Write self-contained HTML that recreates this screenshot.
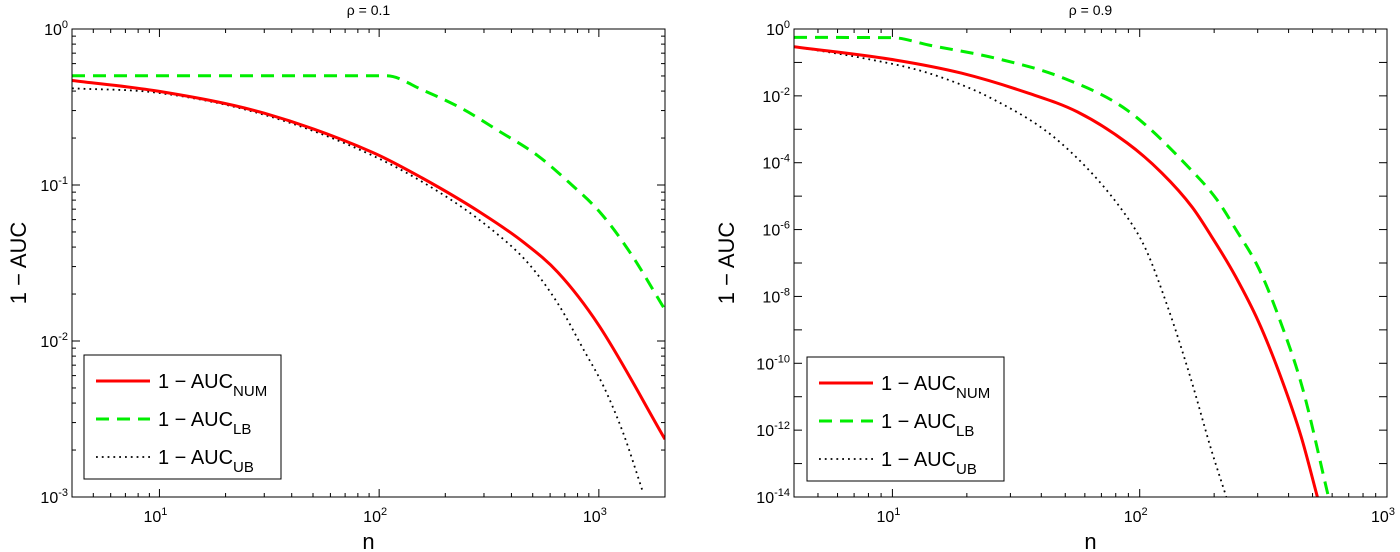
<!DOCTYPE html>
<html><head><meta charset="utf-8">
<style>
html,body{margin:0;padding:0;background:#fff;}
svg{display:block;font-family:"Liberation Sans",sans-serif;}
</style></head>
<body>
<svg id="fig" width="1400" height="552" viewBox="0 0 1400 552"></svg>
<script>
// Left panel (rho = 0.1)  values are log10(1 - AUC)
const leftNumN = [4, 10, 30, 93, 157, 292, 457, 651, 1000, 2000];
const leftNumY = [-0.33, -0.40, -0.54, -0.79, -0.955, -1.18, -1.37, -1.56, -1.90, -2.63];
const leftLbN = [4, 108, 157, 238, 347, 525, 740, 1020, 1397, 2000];
const leftLbY = [-0.30, -0.30, -0.39, -0.51, -0.65, -0.81, -0.99, -1.18, -1.44, -1.80];
const leftUbN = [4, 10, 30, 93, 187, 315, 476, 651, 856, 1050, 1290, 1580];
const leftUbY = [-0.38, -0.41, -0.55, -0.81, -1.045, -1.27, -1.5, -1.76, -2.06, -2.29, -2.59, -2.96];
// Right panel (rho = 0.9)
const rightNumN = [4, 10.3, 19, 35.5, 56, 89, 123, 163, 195, 244, 302, 365, 450, 523];
const rightNumY = [-0.53, -0.93, -1.32, -1.92, -2.48, -3.41, -4.31, -5.33, -6.2, -7.4, -8.75, -10.25, -12.2, -14];
const rightLbN = [4, 10, 14, 26, 48, 89, 166, 205, 244, 302, 365, 455, 580];
const rightLbY = [-0.25, -0.26, -0.48, -0.87, -1.44, -2.43, -4.31, -5.1, -5.98, -7.14, -8.62, -10.73, -14];
const rightUbN = [4, 7.6, 14, 26, 48, 89, 106, 131, 160, 195, 224];
const rightUbY = [-0.53, -0.87, -1.32, -2.13, -3.41, -5.63, -6.6, -8.4, -10.4, -12.6, -14];
const leftYTicks = [0, -1, -2, -3];
const rightYTicks = [0, -2, -4, -6, -8, -10, -12, -14];
const xTickExps = [1, 2, 3];
const legendLabels = ["NUM", "LB", "UB"];

const NS = "http://www.w3.org/2000/svg";
const svg = document.getElementById("fig");
function mk(tag, attrs, parent) {
  const e = document.createElementNS(NS, tag);
  for (const k in attrs) e.setAttribute(k, attrs[k]);
  (parent || svg).appendChild(e);
  return e;
}
// monotone cubic (Fritsch-Carlson)
function smoothPath(p) {
  const n = p.length, dx = [], s = [], m = [];
  for (let i = 0; i < n - 1; i++) { dx[i] = p[i + 1][0] - p[i][0]; s[i] = (p[i + 1][1] - p[i][1]) / dx[i]; }
  m[0] = s[0]; m[n - 1] = s[n - 2];
  for (let i = 1; i < n - 1; i++) m[i] = (s[i - 1] * s[i] <= 0) ? 0 : (s[i - 1] + s[i]) / 2;
  for (let i = 0; i < n - 1; i++) {
    if (s[i] === 0) { m[i] = 0; m[i + 1] = 0; continue; }
    const a = m[i] / s[i], b = m[i + 1] / s[i], h = a * a + b * b;
    if (h > 9) { const t = 3 / Math.sqrt(h); m[i] = t * a * s[i]; m[i + 1] = t * b * s[i]; }
  }
  let d = "M" + p[0][0].toFixed(1) + "," + p[0][1].toFixed(1);
  for (let i = 0; i < n - 1; i++) {
    const h = dx[i] / 3;
    d += " C" + (p[i][0] + h).toFixed(1) + "," + (p[i][1] + m[i] * h).toFixed(1) + " " +
      (p[i + 1][0] - h).toFixed(1) + "," + (p[i + 1][1] - m[i + 1] * h).toFixed(1) + " " +
      p[i + 1][0].toFixed(1) + "," + p[i + 1][1].toFixed(1);
  }
  return d;
}

function panel(cfg) {
  const g = mk("g", {});
  
  
  const {x0, x1, y0, y1, xmin, xmax, ymin, ymax} = cfg;
  const lx0 = Math.log10(xmin), lx1 = Math.log10(xmax);
  const X = n => x0 + (Math.log10(n) - lx0) / (lx1 - lx0) * (x1 - x0);
  const Y = l => y0 + (ymax - l) / (ymax - ymin) * (y1 - y0);
  const clip = "clip-" + cfg.name;
  const cp = mk("clipPath", {id: clip}, g);
  mk("rect", {x: x0, y: y0, width: x1 - x0, height: y1 - y0}, cp);
  for (let d = Math.floor(lx0); d <= Math.ceil(lx1); d++) {
    for (let m = 1; m <= 9; m++) {
      const v = m * Math.pow(10, d);
      if (v < xmin - 1e-9 || v > xmax + 1e-9) continue;
      const px = X(v), len = m === 1 ? 8 : 4;
      mk("line", {x1: px, x2: px, y1: y1, y2: y1 - len, stroke: "#000", "stroke-width": 1}, g);
      mk("line", {x1: px, x2: px, y1: y0, y2: y0 + len, stroke: "#000", "stroke-width": 1}, g);
    }
  }
  xTickExps.forEach(e => {
    if (Math.pow(10, e) > xmax + 1e-9) return;
    const t = mk("text", {x: X(Math.pow(10, e)) - 4, y: y1 + 25, "font-size": 16, "text-anchor": "middle"}, g);
    
    
    t.innerHTML = '10<tspan dy="-7" font-size="11">' + e + '</tspan>';
  });
  for (let l = ymin; l <= ymax; l++) {
    const py = Y(l);
    mk("line", {x1: x0, x2: x0 + 8, y1: py, y2: py, stroke: "#000", "stroke-width": 1}, g);
    mk("line", {x1: x1, x2: x1 - 8, y1: py, y2: py, stroke: "#000", "stroke-width": 1}, g);
    if (cfg.minorY && l < ymax) {
      for (let m = 2; m <= 9; m++) {
        const pm = Y(l + Math.log10(m));
        mk("line", {x1: x0, x2: x0 + 4, y1: pm, y2: pm, stroke: "#000", "stroke-width": 1}, g);
        mk("line", {x1: x1, x2: x1 - 4, y1: pm, y2: pm, stroke: "#000", "stroke-width": 1}, g);
      }
    }
  }
  cfg.yTicks.forEach(l => {
    const t = mk("text", {x: x0 - 4, y: Y(l) + 6, "font-size": 16, "text-anchor": "end"}, g);
    
    
    t.innerHTML = '10<tspan dy="-7" font-size="11">' + l + '</tspan>';
  });
  const styles = [
    {n: cfg.num[0], y: cfg.num[1], stroke: "#ff0000", w: 3, dash: "", name: "series-num"},
    {n: cfg.lb[0], y: cfg.lb[1], stroke: "#00ee00", w: 3, dash: "13 8", name: "series-lb"},
    {n: cfg.ub[0], y: cfg.ub[1], stroke: "#000", w: 1.8, dash: "1.8 4", name: "series-ub"}
  ];
  styles.slice().reverse().forEach(s => {
    const pts = s.n.map((n, i) => [X(n), Y(s.y[i])]);
    const pl = mk("path", {d: smoothPath(pts), fill: "none", stroke: s.stroke, "stroke-width": s.w, "stroke-dasharray": s.dash, "clip-path": "url(#" + clip + ")"}, g);
    
    
  });
  mk("rect", {x: x0, y: y0, width: x1 - x0, height: y1 - y0, fill: "none", stroke: "#000", "stroke-width": 1}, g);
  const tt = mk("text", {x: (x0 + x1) / 2, y: 15, "font-size": 14, "text-anchor": "middle"}, g);
  
  
  tt.textContent = cfg.title;
  const xl = mk("text", {x: (x0 + x1) / 2, y: 549, "font-size": 22, "text-anchor": "middle"}, g);
  
  
  xl.textContent = "n";
  const yl = mk("text", {x: 0, y: 0, "font-size": 22, "text-anchor": "middle", transform: "translate(" + cfg.ylx + "," + ((y0 + y1) / 2) + ") rotate(-90)"}, g);
  
  
  yl.textContent = "1 \u2212 AUC";
  const lg = mk("g", {}, g);
  
  
  const L = cfg.legend;
  mk("rect", {x: L.x, y: L.y, width: 197, height: 124, fill: "#fff", stroke: "#000", "stroke-width": 1}, lg);
  styles.forEach((s, i) => {
    const cy = L.y + 26 + i * 38;
    const ln = mk("line", {x1: L.x + 12, x2: L.x + 66, y1: cy, y2: cy, stroke: s.stroke, "stroke-width": s.w, "stroke-dasharray": s.dash}, lg);
    
    
    const t = mk("text", {x: L.x + 74, y: cy + 7, "font-size": 20}, lg);
    
    
    t.innerHTML = '1 \u2212 AUC<tspan dy="8" font-size="15">' + legendLabels[i] + '</tspan>';
  });
}

panel({name: "left-panel", x0: 72, x1: 665, y0: 29, y1: 497, xmin: 4, xmax: 2000, ymin: -3, ymax: 0,
  yTicks: leftYTicks, minorY: true, title: "\u03c1 = 0.1", ylx: 26,
  num: [leftNumN, leftNumY], lb: [leftLbN, leftLbY], ub: [leftUbN, leftUbY], legend: {x: 84, y: 355}});
panel({name: "right-panel", x0: 794, x1: 1387, y0: 29, y1: 497, xmin: 4, xmax: 1000, ymin: -14, ymax: 0,
  yTicks: rightYTicks, minorY: false, title: "\u03c1 = 0.9", ylx: 734,
  num: [rightNumN, rightNumY], lb: [rightLbN, rightLbY], ub: [rightUbN, rightUbY], legend: {x: 807, y: 357}});
</script>
</body></html>
